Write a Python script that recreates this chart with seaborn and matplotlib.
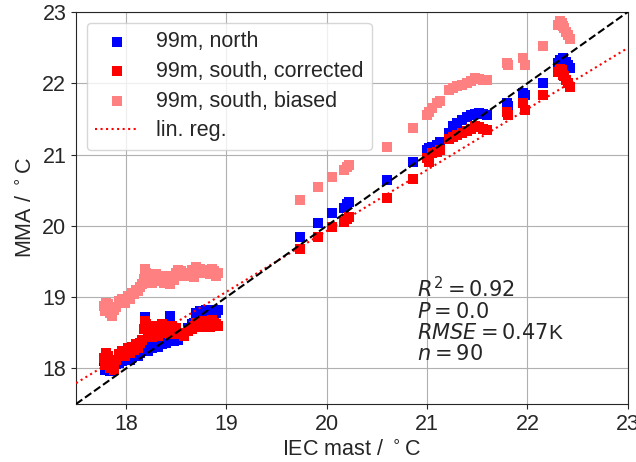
import numpy as np
import pandas as pd
import matplotlib
matplotlib.use('Agg')
import matplotlib.pyplot as plt
import seaborn as sns

# IEC mast temperature (x) and MMA temperatures (y)
iec = [17.78, 17.79, 17.80, 17.81, 17.82, 17.84, 17.86, 17.88, 17.90, 17.93,
       17.96, 17.99, 18.02, 18.04, 18.06, 18.08, 18.10, 18.12, 18.14, 18.16,
       18.18, 18.19, 18.20, 18.22, 18.24, 18.26, 18.28, 18.30, 18.32, 18.34,
       18.36, 18.38, 18.40, 18.42, 18.44, 18.46, 18.48, 18.50, 18.52, 18.55,
       18.58, 18.62, 18.66, 18.70, 18.72, 18.74, 18.76, 18.80, 18.84, 18.88,
       18.90, 18.68, 18.86, 18.92,
       19.73, 19.91, 20.05, 20.17, 20.20, 20.22, 20.60, 20.86,
       21.00, 21.02, 21.05, 21.10, 21.13, 21.22, 21.26, 21.30, 21.35, 21.40,
       21.44, 21.48, 21.52, 21.56, 21.60, 21.80, 21.81,
       21.96, 21.98, 22.16, 22.30, 22.32, 22.35, 22.38, 22.40, 22.42, 22.36, 22.34]

north = [18.10, 17.98, 18.05, 18.02, 18.12, 17.96, 18.00, 18.04, 18.06, 18.08,
         18.10, 18.12, 18.14, 18.12, 18.16, 18.18, 18.20, 18.18, 18.22, 18.24,
         18.26, 18.72, 18.28, 18.24, 18.30, 18.28, 18.32, 18.34, 18.30, 18.36,
         18.34, 18.38, 18.36, 18.40, 18.74, 18.42, 18.38, 18.44, 18.40, 18.46,
         18.50, 18.56, 18.62, 18.78, 18.66, 18.80, 18.76, 18.82, 18.82, 18.80,
         18.78, 18.64, 18.80, 18.82,
         19.84, 20.04, 20.18, 20.25, 20.30, 20.33, 20.64, 20.90,
         21.07, 21.09, 21.10, 21.14, 21.17, 21.30, 21.40, 21.44, 21.48, 21.52,
         21.55, 21.57, 21.58, 21.57, 21.55, 21.72, 21.68,
         21.87, 21.84, 22.00, 22.28, 22.32, 22.35, 22.30, 22.26, 22.22, 22.25, 22.28]

south_corr = [18.15, 18.05, 18.22, 18.10, 18.18, 18.00, 18.08, 17.98, 18.12, 18.20,
              18.24, 18.18, 18.28, 18.22, 18.30, 18.26, 18.34, 18.28, 18.36, 18.40,
              18.55, 18.66, 18.62, 18.48, 18.58, 18.44, 18.52, 18.60, 18.46, 18.56,
              18.62, 18.50, 18.58, 18.54, 18.48, 18.60, 18.52, 18.56, 18.48, 18.50,
              18.46, 18.52, 18.55, 18.64, 18.62, 18.58, 18.66, 18.66, 18.58, 18.64,
              18.62, 18.60, 18.68, 18.60,
              19.68, 19.84, 19.98, 20.06, 20.10, 20.13, 20.39, 20.66,
              20.95, 20.90, 21.02, 21.04, 21.06, 21.22, 21.25, 21.28, 21.30, 21.33,
              21.36, 21.40, 21.38, 21.36, 21.35, 21.60, 21.55,
              21.72, 21.62, 21.84, 22.16, 22.20, 22.12, 22.05, 22.00, 21.95, 22.10, 22.18]

south_bias = [18.88, 18.80, 18.92, 18.84, 18.90, 18.78, 18.74, 18.82, 18.86, 18.94,
              18.98, 18.92, 19.02, 18.98, 19.06, 19.04, 19.10, 19.08, 19.14, 19.18,
              19.26, 19.40, 19.34, 19.22, 19.30, 19.20, 19.26, 19.32, 19.22, 19.28,
              19.30, 19.20, 19.26, 19.24, 19.18, 19.30, 19.24, 19.34, 19.38, 19.36,
              19.30, 19.34, 19.38, 19.42, 19.36, 19.40, 19.34, 19.38, 19.32, 19.36,
              19.30, 19.28, 19.40, 19.34,
              20.36, 20.55, 20.69, 20.78, 20.82, 20.85, 21.10, 21.37,
              21.55, 21.60, 21.66, 21.72, 21.75, 21.90, 21.94, 21.96, 21.98, 22.00,
              22.03, 22.07, 22.06, 22.05, 22.04, 22.28, 22.25,
              22.36, 22.25, 22.52, 22.82, 22.88, 22.80, 22.72, 22.68, 22.62, 22.78, 22.85]

# linear regression
reg_slope = 0.855
reg_intercept = 2.83
stats_text = '$R^2 = 0.92$\n$P = 0.0$\n$RMSE = 0.47$K\n$n = 90$'

df = pd.DataFrame({'iec': iec, 'north': north, 'corr': south_corr, 'bias': south_bias})

sns.set_style('ticks')
plt.rcParams['font.family'] = ['Liberation Sans', 'DejaVu Sans']
plt.rcParams['font.size'] = 15.5

fig, ax = plt.subplots(figsize=(6.36, 4.62), dpi=100)
fig.subplots_adjust(left=0.1195, right=0.987, top=0.974, bottom=0.1255)

sns.scatterplot(data=df, x='iec', y='north', marker='s', color='blue', s=50,
                linewidth=0, label='99m, north', ax=ax, zorder=3)
sns.scatterplot(data=df, x='iec', y='corr', marker='s', color='red', s=50,
                linewidth=0, label='99m, south, corrected', ax=ax, zorder=3)
sns.scatterplot(data=df, x='iec', y='bias', marker='s', color='#ff8080', s=50,
                linewidth=0, label='99m, south, biased', ax=ax, zorder=3)

xx = np.array([17.5, 23])
ax.plot(xx, reg_slope * xx + reg_intercept, ':', color='red', lw=1.5, label='lin. reg.', zorder=4)
ax.plot(xx, xx, '--', color='black', lw=1.5, zorder=4)

ax.text(20.9, 19.3, stats_text, va='top', ha='left', fontsize=15, linespacing=1.06)

ax.set_xlim(17.5, 23)
ax.set_ylim(17.5, 23)
ax.set_xticks([18, 19, 20, 21, 22, 23])
ax.set_yticks([18, 19, 20, 21, 22, 23])
ax.grid(True, color='#b0b0b0', lw=0.8)
ax.set_xlabel('IEC mast / $^\\circ$C', fontsize=15.5)
ax.set_ylabel('MMA / $^\\circ$C', fontsize=15.5)
ax.tick_params(labelsize=15.5)
ax.legend(loc='upper left', fontsize=15.5, labelspacing=0.4)

plt.savefig('out.png', dpi=100)
